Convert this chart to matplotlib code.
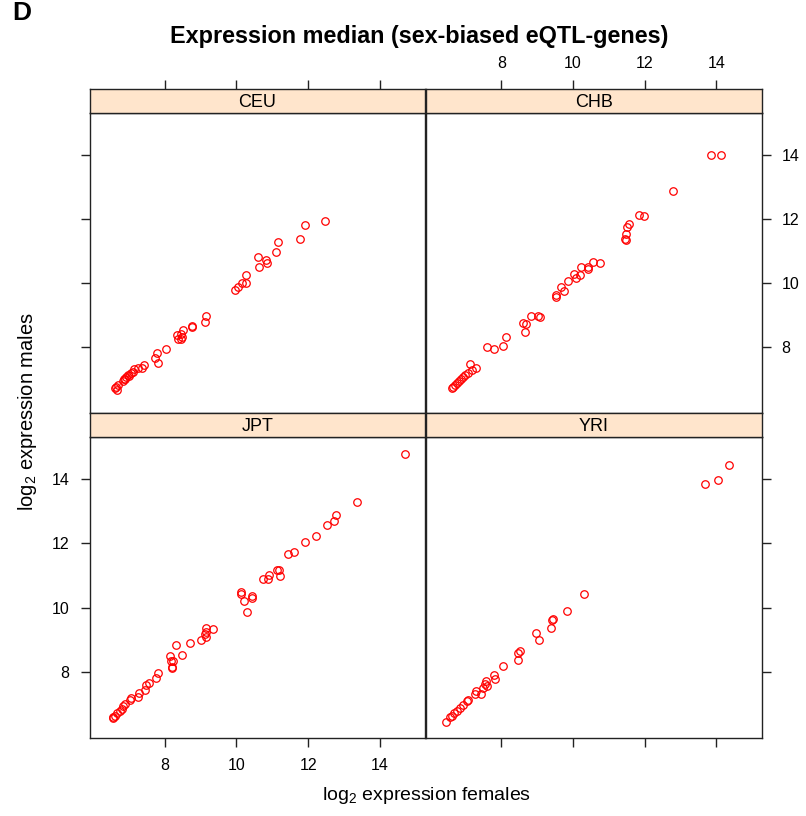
import matplotlib
matplotlib.use("Agg")
import matplotlib.pyplot as plt

plt.rcParams['font.family'] = ['Liberation Sans', 'DejaVu Sans']
plt.rcParams['mathtext.fontset'] = 'custom'
plt.rcParams['mathtext.rm'] = 'Liberation Sans'
plt.rcParams['mathtext.it'] = 'Liberation Sans:italic'

# median log2 expression per population (females on x, males on y)
ceu_x = [12.47, 11.91, 11.76, 11.17, 11.11, 10.61, 10.83, 10.86, 10.62, 10.27,
         10.27, 10.16, 10.04, 9.97, 9.16, 9.12, 8.77, 8.77, 8.51, 8.46,
         8.34, 8.48, 8.37, 8.46, 8.04, 7.78, 7.74, 7.80, 7.42, 7.37,
         7.26, 7.15, 7.05, 6.98, 6.93, 6.87, 6.84, 6.70, 6.64, 6.61,
         6.66, 7.10, 7.00, 6.90]
ceu_y = [11.93, 11.80, 11.37, 11.27, 10.97, 10.81, 10.71, 10.61, 10.49, 10.25,
         9.99, 9.98, 9.88, 9.78, 8.95, 8.76, 8.66, 8.62, 8.51, 8.41,
         8.38, 8.31, 8.25, 8.25, 7.94, 7.79, 7.66, 7.48, 7.42, 7.32,
         7.35, 7.30, 7.19, 7.12, 7.06, 6.98, 6.93, 6.80, 6.75, 6.70,
         6.65, 7.22, 7.08, 6.99]

chb_x = [13.86, 14.14, 12.78, 11.83, 11.99, 11.57, 11.50, 11.47, 11.46, 11.47,
         10.75, 10.55, 10.41, 10.23, 10.43, 10.19, 10.02, 10.09, 9.87, 9.75,
         9.66, 9.54, 9.53, 9.02, 9.07, 8.82, 8.61, 8.70, 8.67, 8.14,
         8.04, 7.79, 7.60, 7.14, 7.30, 7.17, 7.07, 7.00, 6.93, 6.89,
         6.82, 6.76, 6.70, 6.65, 6.63]
chb_y = [13.99, 13.99, 12.85, 12.11, 12.09, 11.82, 11.75, 11.52, 11.38, 11.33,
         10.60, 10.64, 10.48, 10.50, 10.43, 10.24, 10.27, 10.14, 10.06, 9.75,
         9.85, 9.61, 9.55, 8.97, 8.94, 8.97, 8.74, 8.72, 8.45, 8.29,
         8.03, 7.92, 7.98, 7.47, 7.35, 7.27, 7.17, 7.12, 7.04, 6.98,
         6.93, 6.86, 6.80, 6.73, 6.71]

jpt_x = [14.69, 13.36, 12.78, 12.71, 12.53, 12.23, 11.91, 11.61, 11.44, 11.13,
         11.18, 11.22, 10.92, 10.87, 10.75, 10.14, 10.13, 10.43, 10.43, 10.22,
         10.30, 9.34, 9.16, 9.14, 9.11, 9.16, 9.02, 8.70, 8.30, 8.47,
         8.14, 8.16, 8.23, 8.19, 8.21, 7.82, 7.75, 7.56, 7.47, 7.44,
         7.29, 7.26, 7.07, 7.03, 6.89, 6.84, 6.80, 6.75, 6.67, 6.61,
         6.56, 6.55]
jpt_y = [14.78, 13.30, 12.89, 12.69, 12.56, 12.24, 12.03, 11.73, 11.66, 11.18,
         11.18, 10.99, 11.00, 10.90, 10.89, 10.48, 10.42, 10.37, 10.29, 10.19,
         9.86, 9.34, 9.36, 9.25, 9.16, 9.07, 9.00, 8.90, 8.82, 8.52,
         8.50, 8.32, 8.32, 8.15, 8.11, 7.95, 7.81, 7.65, 7.57, 7.44,
         7.34, 7.21, 7.18, 7.13, 6.99, 6.92, 6.83, 6.78, 6.71, 6.63,
         6.57, 6.55]

yri_x = [14.36, 14.06, 13.67, 10.31, 9.83, 9.43, 9.42, 9.38, 8.98, 9.04,
         8.53, 8.46, 8.48, 8.04, 7.79, 7.83, 7.58, 7.54, 7.61, 7.49,
         7.44, 7.30, 7.26, 7.07, 7.03, 6.93, 6.84, 6.76, 6.68, 6.63,
         6.56, 6.47]
yri_y = [14.45, 13.98, 13.86, 10.42, 9.89, 9.65, 9.60, 9.36, 9.22, 9.00,
         8.65, 8.57, 8.36, 8.18, 7.90, 7.76, 7.71, 7.62, 7.55, 7.50,
         7.31, 7.41, 7.29, 7.13, 7.07, 6.97, 6.86, 6.78, 6.71, 6.63,
         6.58, 6.44]

populations = ['CEU', 'CHB', 'JPT', 'YRI']
series = {'CEU': (ceu_x, ceu_y), 'CHB': (chb_x, chb_y),
          'JPT': (jpt_x, jpt_y), 'YRI': (yri_x, yri_y)}
ticks = [8, 10, 12, 14]
x_lim = (5.90, 15.26)
y_lim = (5.92, 15.31)

W, H = 806, 816
fig = plt.figure(figsize=(W / 100, H / 100), dpi=100)

# panel layout in pixels: left, panel top, panel bottom, strip top
col_left = [89.5, 426.0]
col_width = 335.5
rows = [(112.7, 413.3, 89.3), (437.3, 738.3, 413.3)]

edge = '#222222'
tick_len = 6.5
tick_fs = 11.5


def frac_box(x0, y0, x1, y1):
    return [x0 / W, 1 - y1 / H, (x1 - x0) / W, (y1 - y0) / H]


for i, pop in enumerate(populations):
    r, c = divmod(i, 2)
    top, bottom, strip_top = rows[r]
    x0 = col_left[c]
    ax = fig.add_axes(frac_box(x0, top, x0 + col_width, bottom))
    xs, ys = series[pop]
    ax.plot(xs, ys, linestyle='none', marker='o', markersize=5.4,
            markerfacecolor='none', markeredgecolor='#ff0000', markeredgewidth=0.9)
    ax.set_xlim(*x_lim)
    ax.set_ylim(*y_lim)
    for s in ax.spines.values():
        s.set_color(edge)
        s.set_linewidth(1.0)

    ax.set_xticks(ticks)
    ax.set_yticks(ticks)
    ax.tick_params(direction='out', length=tick_len, width=1.0, color=edge,
                   labelsize=tick_fs, pad=8,
                   top=False, labeltop=False,
                   bottom=(r == 1), labelbottom=(r == 1 and c == 0),
                   left=(c == 0), labelleft=(c == 0 and r == 1),
                   right=(c == 1), labelright=(c == 1 and r == 0))

    # strip with the population name
    sx = fig.add_axes(frac_box(x0, strip_top, x0 + col_width, top))
    sx.set_facecolor('#ffe5cc')
    sx.set_xlim(*x_lim)
    sx.set_ylim(0, 1)
    sx.set_yticks([])
    for s in sx.spines.values():
        s.set_color(edge)
        s.set_linewidth(1.0)
    if r == 0:
        sx.set_xticks(ticks)
        sx.tick_params(axis='x', direction='out', length=tick_len, width=1.0,
                       color=edge, labelsize=tick_fs, pad=7,
                       bottom=False, labelbottom=False,
                       top=True, labeltop=(c == 1))
    else:
        sx.set_xticks([])
    sx.text(0.5, 0.45, pop, transform=sx.transAxes, ha='center', va='center',
            fontsize=13)

fig.text(22 / W, 1 - 1 / H, 'D', fontsize=19, fontweight='bold',
         ha='center', va='top')
fig.text(419 / W, 1 - 37 / H, 'Expression median (sex-biased eQTL-genes)',
         fontsize=16.8, fontweight='bold', ha='center', va='center')
fig.text(427 / W, 1 - 796 / H, 'log$_2$ expression females', fontsize=14,
         ha='center', va='center')
fig.text(28 / W, 1 - 412 / H, 'log$_2$ expression males', fontsize=14.5,
         ha='center', va='center', rotation=90)

fig.savefig('out.png', dpi=100)
